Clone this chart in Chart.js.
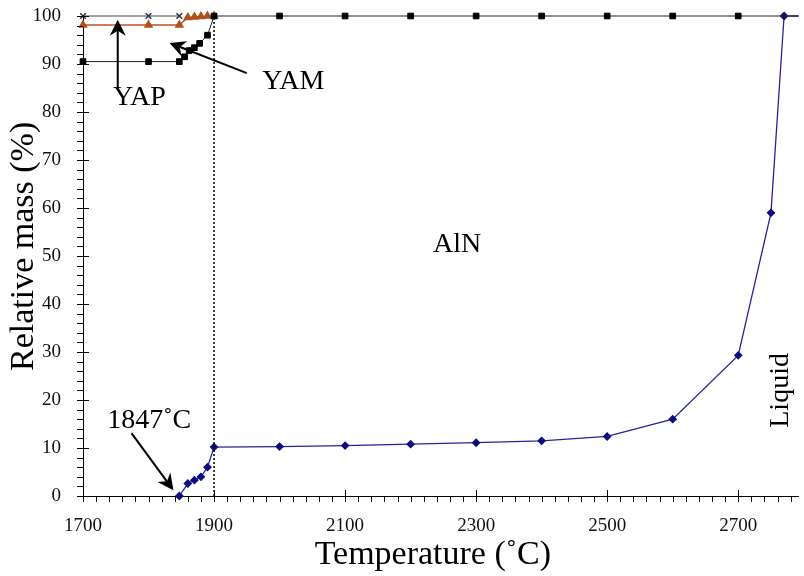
<!DOCTYPE html>
<html>
<head>
<meta charset="utf-8">
<script src="https://cdn.jsdelivr.net/npm/chart.js@4/dist/chart.umd.min.js"></script>
<style>
  html, body { margin: 0; padding: 0; background: #fff; overflow: hidden; }
  #wrap { width: 804px; height: 576px; }
</style>
</head>
<body>
<div id="wrap"><canvas id="ch"></canvas></div>
<script>
// temperatures (°C) and relative mass (%)
const yamT = [1700, 1800, 1847, 1855, 1862, 1870, 1878, 1890, 1900, 2000, 2100, 2200, 2300, 2400, 2500, 2600, 2700, 2800];
const yamM = [90.5, 90.5, 90.5, 91.5, 92.8, 93.4, 94.3, 96.0, 100, 100, 100, 100, 100, 100, 100, 100, 100, 100];

const yapT = [1700, 1800, 1847, 1860, 1870, 1880, 1890, 1900];
const yapM = [98.1, 98.1, 98.1, 99.7, 99.8, 99.9, 100, 100];

const otherT = [1700, 1800, 1847];
const otherM = [100, 100, 100];

const liqT = [1847, 1860, 1870, 1880, 1890, 1900, 2000, 2100, 2200, 2300, 2400, 2500, 2600, 2700, 2750, 2770, 2800];
const liqM = [0, 2.6, 3.3, 4.0, 6.0, 10.2, 10.3, 10.5, 10.8, 11.1, 11.5, 12.4, 16.0, 29.3, 59.0, 100, 100];

const xTicks = [1700, 1900, 2100, 2300, 2500, 2700];
const yTicks = [0, 10, 20, 30, 40, 50, 60, 70, 80, 90, 100];

const pts = (xs, ys) => xs.map((v, i) => ({ x: v, y: ys[i] }));
const serif = '"Liberation Serif", "Times New Roman", serif';
const clipBox = { left: 10, top: 10, right: 0, bottom: 10 };

let drawArrow = (ctx, x1, y1, x2, y2) => {
    let a = Math.atan2(y2 - y1, x2 - x1);
    let len = 16, w = 8;
    ctx.beginPath();
    ctx.moveTo(x1, y1);
    ctx.lineTo(x2 - Math.cos(a) * 8, y2 - Math.sin(a) * 8);
    ctx.stroke();
    ctx.beginPath();
    ctx.moveTo(x2, y2);
    ctx.lineTo(x2 - Math.cos(a) * len + Math.sin(a) * w, y2 - Math.sin(a) * len - Math.cos(a) * w);
    ctx.lineTo(x2 - Math.cos(a) * (len - 5), y2 - Math.sin(a) * (len - 5));
    ctx.lineTo(x2 - Math.cos(a) * len - Math.sin(a) * w, y2 - Math.sin(a) * len + Math.cos(a) * w);
    ctx.closePath();
    ctx.fill();
};

const overlay = {
    id: 'overlay',
    afterDraw(chart) {
        let { ctx, scales: { x, y } } = chart;
        ctx.save();
        ctx.strokeStyle = '#000';
        ctx.fillStyle = '#000';
        ctx.lineWidth = 1;

        // x ticks: major every 200, minor every 20
        let y0 = y.getPixelForValue(0);
        for (let v = 1700; v <= x.max; v += 20) {
            let px = Math.round(x.getPixelForValue(v)) + 0.5;
            let major = (v - 1700) % 200 === 0;
            ctx.beginPath();
            ctx.moveTo(px, major ? y0 - 6 : y0);
            ctx.lineTo(px, y0 + 6);
            ctx.stroke();
        }
        // y ticks: major every 10, minor every 2
        let x0 = x.getPixelForValue(1700);
        for (let v = 0; v <= 100; v += 2) {
            let py = Math.round(y.getPixelForValue(v)) + 0.5;
            let major = v % 10 === 0;
            ctx.beginPath();
            ctx.moveTo(x0 - 6, py);
            ctx.lineTo(major ? x0 + 6 : x0, py);
            ctx.stroke();
        }

        // axis titles
        ctx.font = '34px ' + serif;
        ctx.textAlign = 'center';
        ctx.textBaseline = 'middle';
        ctx.fillText('Temperature (\u02DAC)', x.getPixelForValue(2234), 555);
        ctx.save();
        ctx.translate(24, y.getPixelForValue(52));
        ctx.rotate(-Math.PI / 2);
        ctx.fillText('Relative mass (%)', 0, 0);
        ctx.restore();

        // labels inside the plot
        let P = (t, m) => [x.getPixelForValue(t), y.getPixelForValue(m)];
        ctx.font = '28px ' + serif;
        ctx.fillText('YAP', ...P(1786, 83));
        ctx.fillText('YAM', ...P(2021, 86.3));
        ctx.fillText('AlN', ...P(2271, 52.3));
        ctx.fillText('1847\u02DAC', ...P(1801, 15.8));
        ctx.save();
        ctx.translate(...P(2764, 22));
        ctx.rotate(-Math.PI / 2);
        ctx.fillText('Liquid', 0, 0);
        ctx.restore();

        // arrows
        ctx.lineWidth = 2;
        drawArrow(ctx, ...P(1753, 85), ...P(1753, 99.2));
        drawArrow(ctx, ...P(1950, 88.1), ...P(1832, 94.4));
        drawArrow(ctx, ...P(1774, 13.1), ...P(1838, 1.2));
        ctx.restore();
    }
};

new Chart('ch', {
    type: 'scatter',
    data: {
        datasets: [
            {
                label: '1900 line',
                data: [{ x: 1900, y: 0 }, { x: 1900, y: 100 }],
                showLine: true,
                borderColor: '#000',
                borderWidth: 1.5,
                borderDash: [2, 2],
                pointRadius: 0
            },
            {
                label: 'YAM',
                data: pts(yamT, yamM),
                showLine: true,
                borderColor: '#222',
                borderWidth: 1,
                pointBackgroundColor: '#000',
                pointBorderColor: '#000',
                pointStyle: 'rect',
                pointRadius: 4,
                clip: clipBox
            },
            {
                label: 'YAP',
                data: pts(yapT, yapM),
                showLine: true,
                borderColor: '#b8561f',
                borderWidth: 1.5,
                pointBackgroundColor: '#b0501a',
                pointBorderColor: '#b0501a',
                pointStyle: 'triangle',
                pointRadius: 4,
                clip: false
            },
            {
                label: 'other',
                data: pts(otherT, otherM),
                showLine: true,
                borderColor: '#444',
                borderWidth: 1,
                pointBorderColor: '#2a3050',
                pointBorderWidth: 1.5,
                pointStyle: 'crossRot',
                pointRadius: 4,
                clip: false
            },
            {
                label: 'Liquid',
                data: pts(liqT, liqM),
                showLine: true,
                borderColor: '#25259a',
                borderWidth: 1.3,
                pointBackgroundColor: '#0c0c80',
                pointBorderColor: '#0c0c80',
                pointStyle: 'rectRot',
                pointRadius: 3.5,
                clip: clipBox
            }
        ]
    },
    options: {
        responsive: true,
        maintainAspectRatio: false,
        animation: false,
        layout: { padding: { top: 16, right: 0, bottom: 0, left: 0 } },
        plugins: { legend: { display: false }, tooltip: { enabled: false } },
        scales: {
            x: {
                type: 'linear',
                min: 1700,
                max: 2792,
                afterBuildTicks: (s) => { s.ticks = xTicks.map(v => ({ value: v })); },
                afterFit: (s) => { s.height = 80; s.paddingLeft = 0; s.paddingRight = 0; },
                grid: { display: false },
                border: { display: true, color: '#000', width: 1 },
                ticks: { color: '#111', font: { family: serif, size: 19 }, padding: 11, maxRotation: 0, callback: (v) => String(v) }
            },
            y: {
                min: 0,
                max: 100,
                afterBuildTicks: (s) => { s.ticks = yTicks.map(v => ({ value: v })); },
                afterFit: (s) => { s.width = 83; s.paddingTop = 0; s.paddingBottom = 0; },
                grid: { display: false },
                border: { display: true, color: '#000', width: 1 },
                ticks: { color: '#111', font: { family: serif, size: 19 }, padding: 14, callback: (v) => String(v) }
            }
        }
    },
    plugins: [overlay]
});
</script>
</body>
</html>
